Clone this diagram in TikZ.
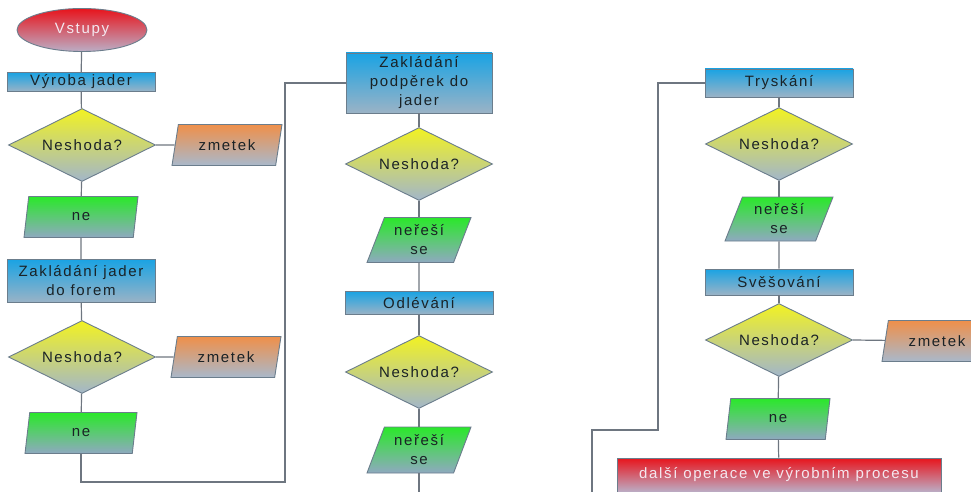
\documentclass[tikz,border=0pt]{standalone}
\usepackage{fontspec}
\setmainfont[LetterSpace=11]{Liberation Sans}
\usetikzlibrary{shapes.geometric}

\definecolor{edgegray}{HTML}{6B7D8C}
\definecolor{linegray}{HTML}{6E7680}
\definecolor{boxtop}{HTML}{1AA3E3}
\definecolor{boxbot}{HTML}{9BB3C6}
\definecolor{diatop}{HTML}{F2F222}
\definecolor{diabot}{HTML}{A2B6CA}
\definecolor{grntop}{HTML}{2AE82A}
\definecolor{grnbot}{HTML}{8FA9C0}
\definecolor{orgtop}{HTML}{EF8F4A}
\definecolor{orgbot}{HTML}{A9B9CB}
\definecolor{redtop}{HTML}{E8141C}
\definecolor{redbot}{HTML}{BBAEC6}
\definecolor{txtdark}{HTML}{1A2226}
\definecolor{txtlight}{HTML}{F4E8F0}

\tikzset{
  base/.style={draw=edgegray, line width=0.9pt, inner sep=0pt, align=center,
    font=\fontsize{15}{19}\selectfont, text=txtdark},
  procbox/.style={base, rectangle, minimum width=148,
    top color=boxtop, bottom color=boxbot},
  decision/.style={base, diamond, shape aspect=2, minimum width=147, minimum height=73,
    top color=diatop, bottom color=diabot},
  slanted/.style={base, trapezium, trapezium left angle=60,
    trapezium right angle=120, trapezium stretches body,
    minimum width=110, minimum height=41},
  okbox/.style={slanted, top color=grntop, bottom color=grnbot},
  scrap/.style={slanted, top color=orgtop, bottom color=orgbot},
  startend/.style={base, ellipse, minimum width=130, minimum height=43,
    top color=redtop, bottom color=redbot, text=txtlight},
  finalbox/.style={base, rectangle, minimum width=324, minimum height=34,
    top color=redtop, bottom color=redbot, text=txtlight},
  link/.style={draw=linegray, line width=1.2pt}
}

\begin{document}
\begin{tikzpicture}[x=1pt, y=-1pt]
  \useasboundingbox (0,0) rectangle (971,492);

  % first column: cores
  \node[startend] (vst) at (82,30) {Vstupy};
  \node[procbox, minimum height=19] (vyr) at (81,82) {Výroba jader};
  \node[decision] (d1) at (82,145) {Neshoda?};
  \node[scrap] (z1) at (227,145) {zmetek};
  \node[okbox, minimum width=114] (n1) at (81,217) {ne};
  \node[procbox, minimum height=43] (zak) at (81,281) {Zakládání jader\\do forem};
  \node[decision] (d2) at (82,357) {Neshoda?};
  \node[scrap] (z2) at (226,357) {zmetek};
  \node[okbox, minimum width=112] (n2) at (81,433) {ne};

  % second column: supports and casting
  \node[procbox, minimum width=146, minimum height=60] (pod) at (419,83) {Zakládání\\podpěrek do\\jader};
  \node[decision] (d3) at (419,164) {Neshoda?};
  \node[okbox, minimum width=104, minimum height=45] (n3) at (419,240) {neřeší\\se};
  \node[procbox, minimum height=23] (odl) at (419,303) {Odlévání};
  \node[decision] (d4) at (419,372) {Neshoda?};
  \node[okbox, minimum width=104, minimum height=46] (n4) at (419,450) {neřeší\\se};

  % third column: finishing
  \node[procbox, minimum height=28] (trys) at (779,83) {Tryskání};
  \node[decision] (d5) at (779,144) {Neshoda?};
  \node[okbox, minimum width=108, minimum height=44] (n5) at (779,219) {neřeší\\se};
  \node[procbox, minimum height=26] (sves) at (779,282) {Svěšování};
  \node[decision] (d6) at (779,340) {Neshoda?};
  \node[scrap] (z3) at (937,341) {zmetek};
  \node[okbox, minimum width=104] (n6) at (778,419) {ne};
  \node[finalbox] (dal) at (779,475) {další operace ve výrobním procesu};

  % bends of the long connectors
  \coordinate (b1) at (285,482);
  \coordinate (b2) at (592,500);
  \coordinate (b3) at (658,430);

  \path[link] (vst) -- (vyr);
  \path[link] (vyr) -- (d1);
  \path[link] (d1) -- (n1);
  \path[link] (d1.east) -- (z1);
  \path[link] (n1) -- (zak);
  \path[link] (zak) -- (d2);
  \path[link] (d2) -- (n2);
  \path[link] (d2.east) -- (z2);
  \path[link] (n2.south) |- (b1) |- (pod.west);

  \path[link] (pod) -- (d3);
  \path[link] (d3) -- (n3);
  \path[link] (n3) -- (odl);
  \path[link] (odl) -- (d4);
  \path[link] (d4) -- (n4);
  \path[link] (n4.south) |- (b2) |- (b3) |- (trys.west);

  \path[link] (trys) -- (d5);
  \path[link] (d5) -- (n5);
  \path[link] (n5) -- (sves);
  \path[link] (sves) -- (d6);
  \path[link] (d6.east) -- (z3);
  \path[link] (d6) -- (n6);
  \path[link] (n6) -- (dal);
\end{tikzpicture}
\end{document}
